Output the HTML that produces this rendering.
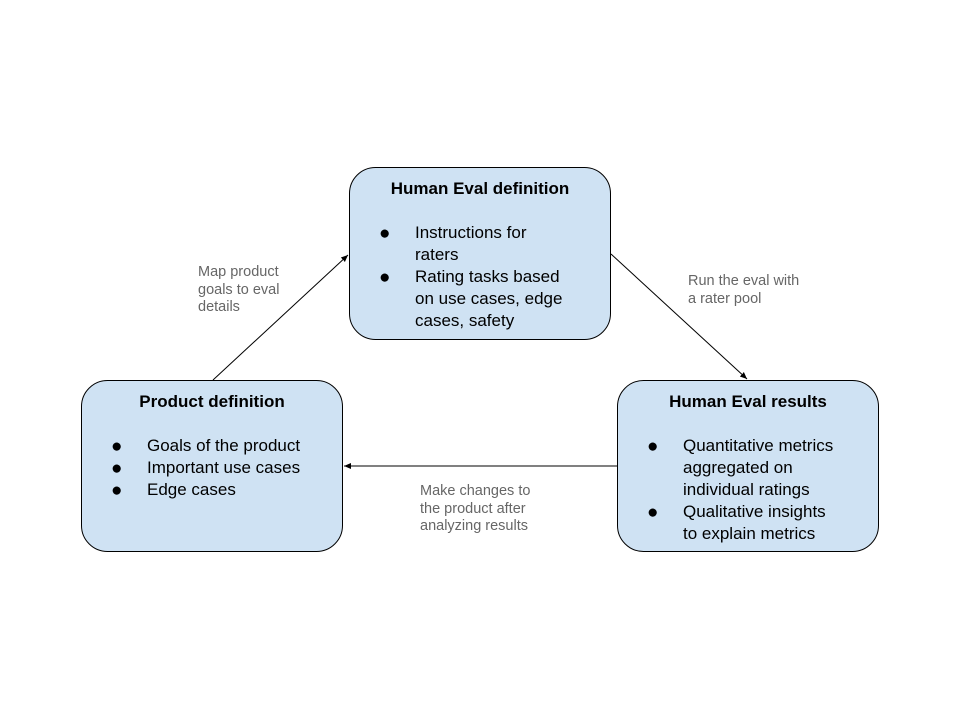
<!DOCTYPE html>
<html><head><meta charset="utf-8"><style>
html,body{margin:0;padding:0;background:#fff;width:960px;height:720px;overflow:hidden}
svg{display:block}
.t{font-family:"Liberation Sans",sans-serif;font-size:17px;fill:#000}
.d{font-family:"Liberation Sans",sans-serif;font-size:19px;fill:#000}
.b{font-weight:bold}
.g{font-family:"Liberation Sans",sans-serif;font-size:14.5px;fill:#666}
</style></head><body>
<svg width="960" height="720" viewBox="0 0 960 720">
<defs><marker id="a" markerWidth="8" markerHeight="8" refX="7" refY="4" orient="auto" markerUnits="userSpaceOnUse"><path d="M0,1 L7,4 L0,7 z" fill="#000"/></marker></defs>
<rect x="349.5" y="167.5" width="261" height="172" rx="26" fill="#cfe2f3" stroke="#000" stroke-width="1"/>
<rect x="81.5" y="380.5" width="261" height="171" rx="26" fill="#cfe2f3" stroke="#000" stroke-width="1"/>
<rect x="617.5" y="380.5" width="261" height="171" rx="26" fill="#cfe2f3" stroke="#000" stroke-width="1"/>
<line x1="213" y1="380" x2="348" y2="255" stroke="#000" marker-end="url(#a)"/>
<line x1="611" y1="254" x2="747" y2="379" stroke="#000" marker-end="url(#a)"/>
<line x1="617" y1="466" x2="344" y2="466" stroke="#000" marker-end="url(#a)"/>

<text class="t b" x="480" y="194" text-anchor="middle">Human Eval definition</text>
<text class="d" x="379" y="239">●</text><text class="t" x="415" y="238">Instructions for</text>
<text class="t" x="415" y="260">raters</text>
<text class="d" x="379" y="283">●</text><text class="t" x="415" y="282">Rating tasks based</text>
<text class="t" x="415" y="304">on use cases, edge</text>
<text class="t" x="415" y="326">cases, safety</text>

<text class="t b" x="212" y="407" text-anchor="middle">Product definition</text>
<text class="d" x="111" y="452">●</text><text class="t" x="147" y="451">Goals of the product</text>
<text class="d" x="111" y="474">●</text><text class="t" x="147" y="473">Important use cases</text>
<text class="d" x="111" y="496">●</text><text class="t" x="147" y="495">Edge cases</text>

<text class="t b" x="748" y="407" text-anchor="middle">Human Eval results</text>
<text class="d" x="647" y="452">●</text><text class="t" x="683" y="451">Quantitative metrics</text>
<text class="t" x="683" y="473">aggregated on</text>
<text class="t" x="683" y="495">individual ratings</text>
<text class="d" x="647" y="518">●</text><text class="t" x="683" y="517">Qualitative insights</text>
<text class="t" x="683" y="539">to explain metrics</text>

<text class="g" x="198" y="276">Map product</text>
<text class="g" x="198" y="294">goals to eval</text>
<text class="g" x="198" y="311">details</text>
<text class="g" x="688" y="285">Run the eval with</text>
<text class="g" x="688" y="303">a rater pool</text>
<text class="g" x="420" y="495">Make changes to</text>
<text class="g" x="420" y="513">the product after</text>
<text class="g" x="420" y="530">analyzing results</text>
</svg>
</body></html>
